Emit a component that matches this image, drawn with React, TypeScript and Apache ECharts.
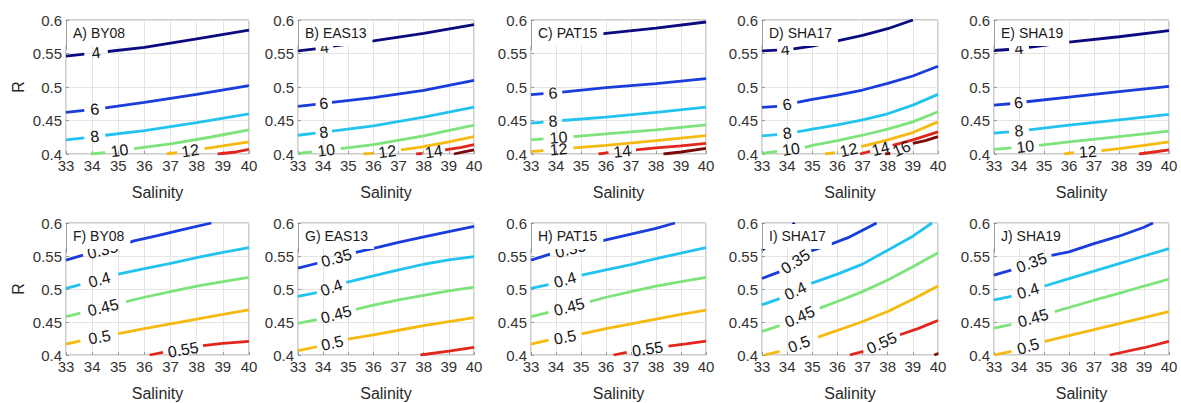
import React, { useEffect, useRef } from 'react';
import * as echarts from 'echarts';

type Contour = { lv: number; segs: number[][][]; lab: number[] | null };

// ---- data ----
const LEVELS_TOP = [4, 6, 8, 10, 12, 14, 16];
const LEVELS_BOTTOM = [0.3, 0.35, 0.4, 0.45, 0.5, 0.55, 0.6];
const LEVEL_COLORS = ['#0b0b80', '#1a3cdc', '#22c4ef', '#7de37a', '#f5b90f', '#e3261b', '#7a0a0a'];
const TITLES = ['A) BY08', 'B) EAS13', 'C) PAT15', 'D) SHA17', 'E) SHA19', 'F) BY08', 'G) EAS13', 'H) PAT15', 'I) SHA17', 'J) SHA19'];
const X_RANGE = [33, 40];
const Y_RANGE = [0.4, 0.6];

const A_BY08: Contour[] = [
  { lv: 4, segs: [[[33, 0.546], [33.7, 0.549]], [[34.6, 0.553], [36, 0.559], [38, 0.572], [40, 0.585]]], lab: [34.15, 0.551] },
  { lv: 6, segs: [[[33, 0.462], [33.7, 0.465]], [[34.5, 0.469], [36, 0.477], [38, 0.489], [40, 0.502]]], lab: [34.1, 0.467] },
  { lv: 8, segs: [[[33, 0.421], [33.7, 0.424]], [[34.5, 0.428], [36, 0.435], [38, 0.447], [40, 0.46]]], lab: [34.1, 0.426] },
  { lv: 10, segs: [[[33.95, 0.4], [34.5, 0.402]], [[35.6, 0.408], [37, 0.415], [38.5, 0.425], [40, 0.436]]], lab: [35.05, 0.405] },
  { lv: 12, segs: [[[36.85, 0.4], [37.25, 0.402]], [[38.3, 0.408], [39, 0.412], [40, 0.418]]], lab: [37.75, 0.405] },
  { lv: 14, segs: [[[38.8, 0.4], [39.5, 0.403], [40, 0.407]]], lab: null },
];
const B_EAS13: Contour[] = [
  { lv: 4, segs: [[[33, 0.554], [33.7, 0.557]], [[34.4, 0.561], [36, 0.569], [38, 0.58], [40, 0.593]]], lab: [34.05, 0.559] },
  { lv: 6, segs: [[[33, 0.471], [33.7, 0.474]], [[34.35, 0.477], [36, 0.484], [38, 0.495], [40, 0.51]]], lab: [34.02, 0.4755] },
  { lv: 8, segs: [[[33, 0.428], [33.7, 0.431]], [[34.35, 0.434], [36, 0.442], [38, 0.455], [40, 0.47]]], lab: [34.02, 0.4325] },
  { lv: 10, segs: [[[33, 0.401], [33.55, 0.403]], [[34.7, 0.408], [36, 0.414], [38, 0.427], [40, 0.443]]], lab: [34.12, 0.4055] },
  { lv: 12, segs: [[[35.6, 0.4], [36.0, 0.401]], [[37.1, 0.406], [38, 0.411], [39, 0.418], [40, 0.426]]], lab: [36.55, 0.4035] },
  { lv: 14, segs: [[[37.7, 0.4], [37.95, 0.401]], [[38.85, 0.406], [39.5, 0.41], [40, 0.414]]], lab: [38.4, 0.4035] },
  { lv: 16, segs: [[[39.2, 0.4], [39.6, 0.403], [40, 0.406]]], lab: null },
];
const C_PAT15: Contour[] = [
  { lv: 4, segs: [[[33, 0.57], [34, 0.5725], [35, 0.576], [36, 0.58], [38, 0.588], [40, 0.597]]], lab: null },
  { lv: 6, segs: [[[33, 0.4885], [33.5, 0.49]], [[34.25, 0.4925], [36, 0.499], [38, 0.505], [40, 0.5125]]], lab: [33.88, 0.491] },
  { lv: 8, segs: [[[33, 0.446], [33.5, 0.4475]], [[34.25, 0.45], [36, 0.455], [38, 0.462], [40, 0.47]]], lab: [33.88, 0.449] },
  { lv: 10, segs: [[[33, 0.421], [33.5, 0.4225]], [[34.7, 0.426], [36, 0.43], [38, 0.436], [40, 0.4435]]], lab: [34.1, 0.4245] },
  { lv: 12, segs: [[[33, 0.4035], [33.5, 0.405]], [[34.7, 0.409], [36, 0.413], [38, 0.42], [40, 0.4275]]], lab: [34.1, 0.407] },
  { lv: 14, segs: [[[35.7, 0.4], [36.1, 0.402]], [[37.2, 0.406], [38, 0.409], [39, 0.412], [40, 0.416]]], lab: [36.65, 0.404] },
  { lv: 16, segs: [[[38.3, 0.4], [39, 0.403], [40, 0.4085]]], lab: null },
];
const D_SHA17: Contour[] = [
  { lv: 4, segs: [[[33, 0.554], [33.6, 0.555]], [[34.25, 0.557], [35, 0.561], [36, 0.569], [37, 0.577], [38, 0.587], [39, 0.6]]], lab: [33.92, 0.556] },
  { lv: 6, segs: [[[33, 0.4697], [33.6, 0.471]], [[34.4, 0.477], [35, 0.4816], [36, 0.488], [37, 0.4955], [38, 0.5055], [39, 0.5164], [40, 0.531]]], lab: [34.0, 0.474] },
  { lv: 8, segs: [[[33, 0.4269], [33.6, 0.429]], [[34.4, 0.433], [35, 0.437], [36, 0.4433], [37, 0.451], [38, 0.46], [39, 0.473], [40, 0.489]]], lab: [34.0, 0.431] },
  { lv: 10, segs: [[[33, 0.401], [33.6, 0.404]], [[34.7, 0.41], [35, 0.413], [36, 0.42], [37, 0.428], [38, 0.437], [39, 0.448], [40, 0.463]]], lab: [34.15, 0.407] },
  { lv: 12, segs: [[[35.5, 0.4], [35.9, 0.402]], [[36.95, 0.411], [38, 0.421], [39, 0.432], [40, 0.448]]], lab: [36.45, 0.406] },
  { lv: 14, segs: [[[36.9, 0.4], [37.3, 0.404]], [[38.2, 0.413], [39, 0.421], [40, 0.433]]], lab: [37.72, 0.408] },
  { lv: 16, segs: [[[37.9, 0.4], [38.1, 0.401]], [[39.0, 0.416], [39.5, 0.42], [40, 0.426]]], lab: [38.55, 0.408] },
];
const E_SHA19: Contour[] = [
  { lv: 4, segs: [[[33, 0.5545], [33.6, 0.556]], [[34.4, 0.559], [36, 0.567], [38, 0.575], [40, 0.584]]], lab: [34.0, 0.5575] },
  { lv: 6, segs: [[[33, 0.473], [33.65, 0.475]], [[34.3, 0.478], [36, 0.485], [38, 0.493], [40, 0.501]]], lab: [33.98, 0.4765] },
  { lv: 8, segs: [[[33, 0.431], [33.6, 0.433]], [[34.4, 0.436], [36, 0.443], [38, 0.451], [40, 0.459]]], lab: [34.0, 0.4345] },
  { lv: 10, segs: [[[33, 0.407], [33.7, 0.409]], [[34.8, 0.413], [36, 0.418], [38, 0.426], [40, 0.434]]], lab: [34.25, 0.411] },
  { lv: 12, segs: [[[35.8, 0.4], [36.2, 0.402]], [[37.3, 0.405], [38, 0.408], [39, 0.413], [40, 0.418]]], lab: [36.75, 0.4035] },
  { lv: 14, segs: [[[38.8, 0.4], [39.4, 0.403], [40, 0.406]]], lab: null },
];
const F_BY08: Contour[] = [
  { lv: 0.35, segs: [[[33, 0.5437], [33.65, 0.5513]], [[35.15, 0.567], [35.6, 0.573], [36.5, 0.581], [37.5, 0.5905], [38.56, 0.6]]], lab: [34.4, 0.559] },
  { lv: 0.4, segs: [[[33, 0.501], [33.55, 0.5065]], [[35.0, 0.5226], [36, 0.531], [37, 0.5387], [38, 0.5477], [39, 0.5555], [40, 0.5628]]], lab: [34.28, 0.514] },
  { lv: 0.45, segs: [[[33, 0.4583], [33.55, 0.4635]], [[35.3, 0.4809], [36, 0.4875], [37, 0.496], [38, 0.5045], [39, 0.511], [40, 0.5176]]], lab: [34.42, 0.472] },
  { lv: 0.5, segs: [[[33, 0.4166], [33.55, 0.4215]], [[35.0, 0.4322], [36, 0.44], [37, 0.4472], [38, 0.4543], [39, 0.4615], [40, 0.4683]]], lab: [34.28, 0.427] },
  { lv: 0.55, segs: [[[36.2, 0.4], [36.71, 0.404]], [[38.24, 0.4141], [39, 0.4175], [40, 0.4206]]], lab: [37.48, 0.408] },
];
const G_EAS13: Contour[] = [
  { lv: 0.35, segs: [[[33, 0.5315], [33.77, 0.539]], [[35.3, 0.5555], [36, 0.5615], [37, 0.5705], [38, 0.579], [39, 0.587], [40, 0.595]]], lab: [34.53, 0.547] },
  { lv: 0.4, segs: [[[33, 0.489], [33.75, 0.4945]], [[34.92, 0.51], [36, 0.52], [37, 0.529], [38, 0.5375], [39, 0.544], [40, 0.549]]], lab: [34.33, 0.502] },
  { lv: 0.45, segs: [[[33, 0.448], [33.75, 0.4535]], [[35.3, 0.469], [36, 0.4755], [37, 0.4835], [38, 0.4905], [39, 0.497], [40, 0.503]]], lab: [34.52, 0.4615] },
  { lv: 0.5, segs: [[[33, 0.4065], [33.75, 0.4125]], [[34.98, 0.424], [36, 0.4305], [37, 0.4375], [38, 0.4445], [39, 0.4505], [40, 0.4565]]], lab: [34.36, 0.418] },
  { lv: 0.55, segs: [[[37.87, 0.4], [39, 0.406], [40, 0.4115]]], lab: null },
];
const H_PAT15: Contour[] = [
  { lv: 0.35, segs: [[[33, 0.5437], [33.76, 0.5528]], [[35.4, 0.5686], [35.96, 0.5739], [37, 0.583], [38, 0.592], [38.76, 0.6]]], lab: [34.58, 0.5605] },
  { lv: 0.4, segs: [[[33, 0.501], [33.7, 0.5065]], [[35.03, 0.521], [36, 0.529], [37, 0.537], [38, 0.546], [39, 0.5545], [40, 0.5628]]], lab: [34.36, 0.514] },
  { lv: 0.45, segs: [[[33, 0.4583], [33.7, 0.4645]], [[35.36, 0.481], [36, 0.4875], [37, 0.496], [38, 0.5045], [39, 0.511], [40, 0.5176]]], lab: [34.53, 0.4728] },
  { lv: 0.5, segs: [[[33, 0.4166], [33.7, 0.4225]], [[35.03, 0.432], [36, 0.44], [37, 0.4472], [38, 0.4543], [39, 0.4615], [40, 0.468]]], lab: [34.36, 0.427] },
  { lv: 0.55, segs: [[[36.3, 0.4], [36.83, 0.404]], [[38.5, 0.4136], [39.2, 0.417], [40, 0.421]]], lab: [37.66, 0.409] },
];
const I_SHA17: Contour[] = [
  { lv: 0.3, segs: [[[33, 0.5588], [33.6, 0.575], [34.3, 0.6]]], lab: null },
  { lv: 0.35, segs: [[[33, 0.516], [33.69, 0.526]], [[34.96, 0.5578], [35.63, 0.5663], [36.5, 0.579], [37.56, 0.6]]], lab: [34.33, 0.5415] },
  { lv: 0.4, segs: [[[33, 0.476], [33.7, 0.4855]], [[34.96, 0.5085], [36, 0.5226], [37, 0.5377], [38, 0.5588], [39, 0.58], [39.76, 0.6]]], lab: [34.33, 0.497] },
  { lv: 0.45, segs: [[[33, 0.4357], [33.7, 0.4445]], [[35.3, 0.471], [36, 0.481], [37, 0.496], [38, 0.5136], [39, 0.5337], [40, 0.5548]]], lab: [34.5, 0.458] },
  { lv: 0.5, segs: [[[33.1, 0.4], [33.7, 0.4055]], [[35.23, 0.4271], [36, 0.4372], [37, 0.4508], [38, 0.4658], [39, 0.4844], [40, 0.5045]]], lab: [34.47, 0.4165] },
  { lv: 0.55, segs: [[[36.49, 0.4], [37.03, 0.4055]], [[38.49, 0.4307], [39.2, 0.44], [40, 0.4523]]], lab: [37.76, 0.418] },
  { lv: 0.6, segs: [[[39.85, 0.4], [40, 0.402]]], lab: null },
];
const J_SHA19: Contour[] = [
  { lv: 0.35, segs: [[[33, 0.5211], [33.69, 0.5286]], [[35.3, 0.551], [36, 0.5563], [37, 0.5688], [38, 0.58], [39, 0.5935], [39.36, 0.6]]], lab: [34.5, 0.54] },
  { lv: 0.4, segs: [[[33, 0.4834], [33.7, 0.489]], [[35.03, 0.5045], [36, 0.5156], [37, 0.527], [38, 0.5385], [39, 0.55], [40, 0.5613]]], lab: [34.36, 0.497] },
  { lv: 0.45, segs: [[[33, 0.4407], [33.7, 0.4465]], [[35.43, 0.4658], [36, 0.472], [37, 0.483], [38, 0.4935], [39, 0.5045], [40, 0.515]]], lab: [34.56, 0.456] },
  { lv: 0.5, segs: [[[33, 0.4], [33.7, 0.4055]], [[35.03, 0.4206], [36, 0.4294], [37, 0.4385], [38, 0.4476], [39, 0.4567], [40, 0.4658]]], lab: [34.36, 0.413] },
  { lv: 0.55, segs: [[[37.63, 0.4], [39, 0.411], [40, 0.4206]]], lab: null },
];

const PANELS: Contour[][] = [A_BY08, B_EAS13, C_PAT15, D_SHA17, E_SHA19, F_BY08, G_EAS13, H_PAT15, I_SHA17, J_SHA19];

// ---- layout ----
const COL_LEFT = [66, 298, 531, 762, 994];
const COL_W = [183, 176, 175, 176, 175];
const ROW_TOP = [20, 223];
const ROW_H = [134, 132];
const FONT = '"Liberation Sans", Arial, Helvetica, sans-serif';

function buildOption() {
  const grid: any[] = [];
  const xAxis: any[] = [];
  const yAxis: any[] = [];
  const title: any[] = [];
  const series: any[] = [];

  PANELS.forEach((contours, p) => {
    const row = p < 5 ? 0 : 1;
    const col = p % 5;
    const W = COL_W[col];
    const H = ROW_H[row];
    const levels = row === 0 ? LEVELS_TOP : LEVELS_BOTTOM;
    grid.push({
      left: COL_LEFT[col], top: ROW_TOP[row], width: W, height: H,
      show: true, borderColor: '#9a9a9a', borderWidth: 1, backgroundColor: 'transparent',
    });
    xAxis.push({
      gridIndex: p, type: 'value', min: X_RANGE[0], max: X_RANGE[1], interval: 1,
      name: 'Salinity', nameLocation: 'middle', nameGap: 30,
      nameTextStyle: { fontSize: 16, color: '#2a2a2a', fontFamily: FONT },
      axisLine: { show: false },
      axisTick: { show: true, inside: true, length: 3, lineStyle: { color: '#9a9a9a' } },
      axisLabel: { fontSize: 15, color: '#333', margin: 4, fontFamily: FONT },
      splitLine: { show: true, lineStyle: { color: '#e4e4e4', width: 1 } },
    });
    yAxis.push({
      gridIndex: p, type: 'value', min: Y_RANGE[0], max: Y_RANGE[1], interval: 0.05,
      name: col === 0 ? 'R' : '', nameLocation: 'middle', nameGap: 40, nameRotate: 90,
      nameTextStyle: { fontSize: 16, color: '#2a2a2a', fontFamily: FONT },
      axisLine: { show: false },
      axisTick: { show: true, inside: true, length: 3, lineStyle: { color: '#9a9a9a' } },
      axisLabel: {
        fontSize: 15, color: '#333', margin: 4, fontFamily: FONT,
        formatter: (v: number) => String(+v.toFixed(2)),
      },
      splitLine: { show: true, lineStyle: { color: '#e4e4e4', width: 1 } },
    });
    title.push({
      text: TITLES[p], left: COL_LEFT[col] - 1, top: ROW_TOP[row] + 1,
      backgroundColor: '#ffffff', padding: [5, 6, 6, 8], z: 10,
      textStyle: { fontSize: 14, fontWeight: 'normal', color: '#1a1a1a', fontFamily: FONT },
    });

    const labelData: any[] = [];
    contours.forEach((c) => {
      const idx = levels.indexOf(c.lv);
      const color = LEVEL_COLORS[idx];
      c.segs.forEach((seg) => {
        series.push({
          type: 'line', xAxisIndex: p, yAxisIndex: p, data: seg,
          symbol: 'none', showSymbol: false, silent: true, z: 3, clip: true,
          lineStyle: { color, width: 2.8, cap: 'butt' },
        });
      });
      if (c.lab) {
        const a = c.segs[0][c.segs[0].length - 1];
        const b = c.segs.length > 1 ? c.segs[1][0] : c.segs[0][0];
        const dxp = ((b[0] - a[0]) / (X_RANGE[1] - X_RANGE[0])) * W;
        const dyp = ((b[1] - a[1]) / (Y_RANGE[1] - Y_RANGE[0])) * H;
        const ang = (Math.atan2(dyp, dxp) * 180) / Math.PI;
        labelData.push({ name: String(c.lv), value: c.lab, label: { rotate: ang } });
      }
    });
    series.push({
      type: 'scatter', xAxisIndex: p, yAxisIndex: p, symbol: 'circle', symbolSize: 1,
      itemStyle: { color: 'rgba(0,0,0,0)' }, silent: true, z: 4,
      label: {
        show: true, position: 'inside', formatter: '{b}', fontSize: 16, color: '#151515',
        textBorderWidth: 0, opacity: 1, fontFamily: FONT,
      },
      data: labelData,
    });
  });

  // left border segments hidden by the title boxes are redrawn on top
  const graphic: any[] = PANELS.map((_, p) => {
    const row = p < 5 ? 0 : 1;
    const col = p % 5;
    return {
      type: 'line', z: 20, silent: true,
      shape: { x1: COL_LEFT[col] + 0.5, y1: ROW_TOP[row], x2: COL_LEFT[col] + 0.5, y2: ROW_TOP[row] + 30 },
      style: { stroke: '#9a9a9a', lineWidth: 1 },
    };
  });

  return { animation: false, backgroundColor: '#ffffff', grid, xAxis, yAxis, title, series, graphic };
}

export default function App() {
  const ref = useRef<HTMLDivElement>(null);
  useEffect(() => {
    if (!ref.current) return;
    const chart = echarts.init(ref.current, undefined, { renderer: 'svg' });
    chart.setOption(buildOption() as any);
    return () => chart.dispose();
  }, []);
  return <div ref={ref} style={{ position: 'absolute', left: 0, top: 0, width: 1181, height: 403, background: '#fff' }} />;
}
